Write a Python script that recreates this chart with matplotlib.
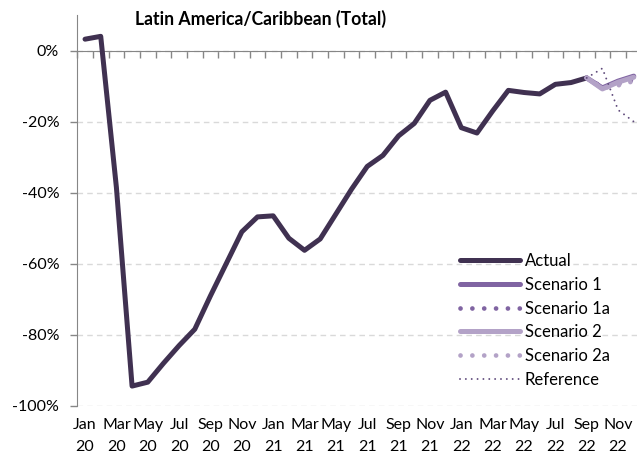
import numpy as np
import matplotlib
matplotlib.use('Agg')
import matplotlib.pyplot as plt
from matplotlib.ticker import FixedLocator, FuncFormatter

plt.rcParams['font.family'] = ['Lato', 'DejaVu Sans']

# months Jan 2020 .. Dec 2022
month_names = ['Jan', 'Feb', 'Mar', 'Apr', 'May', 'Jun',
               'Jul', 'Aug', 'Sep', 'Oct', 'Nov', 'Dec']
years = ['20', '21', '22']
months = [m + '\n' + y for y in years for m in month_names]

# % change vs 2019, actual data up to Sep 22
actual = [3.2, 4.0, -38.5, -94.4, -93.3, -88.0, -83.0, -78.4, -69.0, -60.0,
          -51.0, -46.8, -46.5, -52.8, -56.2, -53.0, -46.0, -39.0, -32.6, -29.5,
          -24.0, -20.5, -14.0, -11.7, -21.7, -23.2, -17.0, -11.2, -11.8, -12.2,
          -9.5, -9.0, -7.7]

# forecast months: Sep 22 .. Dec 22
fc_start = 32
scenario_1 = [-7.7, -10.5, -8.6, -7.2]
scenario_1a = [-7.7, -10.3, -9.4, -8.2]
scenario_2 = [-7.7, -10.8, -8.9, -7.5]
scenario_2a = [-7.7, -10.6, -9.8, -8.6]
reference = [-7.7, -5.0, -16.7, -20.0]

dark = '#403151'
mid = '#8064a2'
light = '#b3a2c7'
ref_col = '#5f4a7b'

fig = plt.figure(figsize=(6.37, 4.59), dpi=100)
ax = fig.add_axes([0.1212, 0.1155, 0.886, 0.8518])

x = np.arange(len(months))
xa = x[:len(actual)]
xf = x[fc_start:fc_start + len(scenario_1)]

ax.plot(xa, actual, color=dark, lw=3.6, solid_capstyle='round',
        solid_joinstyle='round', label='Actual', zorder=3)
ax.plot(xf, scenario_1, color=mid, lw=3.6, solid_capstyle='round',
        label='Scenario 1', zorder=3)
ax.plot(xf, scenario_1a, color=mid, lw=3.4, dashes=(0.01, 2.5),
        dash_capstyle='round', label='Scenario 1a', zorder=3)
ax.plot(xf, scenario_2, color=light, lw=3.6, solid_capstyle='round',
        label='Scenario 2', zorder=3)
ax.plot(xf, scenario_2a, color=light, lw=3.4, dashes=(0.01, 2.5),
        dash_capstyle='round', label='Scenario 2a', zorder=3)
ax.plot(xf, reference, color=ref_col, lw=1.4, dashes=(0.01, 3),
        dash_capstyle='round', label='Reference', zorder=4)

ax.set_xlim(-0.5, 35.5)
ax.set_ylim(-100, 10)

# y axis
ax.set_yticks(np.arange(-100, 1, 20))
ax.yaxis.set_major_formatter(FuncFormatter(lambda v, p: f'{v:.0f}%'))
ax.grid(axis='y', color='#d9d9d9', ls=(0, (4, 3)), lw=1.0)
ax.set_axisbelow(True)
ax.tick_params(axis='y', length=5, width=1, color='#868686', pad=8,
               labelsize=11.5, labelcolor='#000000')

# x axis line sits at 0%, category ticks point down from it
ax.spines['top'].set_position(('data', 0))
ax.spines['top'].set_color('#868686')
ax.spines['left'].set_color('#868686')
ax.spines['right'].set_visible(False)
ax.spines['bottom'].set_visible(False)

ax.xaxis.set_major_locator(FixedLocator(x[::2]))
ax.set_xticklabels(months[::2], linespacing=1.65)
ax.xaxis.set_minor_locator(FixedLocator(np.arange(-0.5, 36, 1)))
ax.tick_params(axis='x', which='major', length=0, pad=9, labelsize=11.5,
               top=False, bottom=True)
ax.tick_params(axis='x', which='minor', length=5, width=1, color='#868686',
               direction='in', top=True, bottom=False)

fig.text(0.409, 0.958, 'Latin America/Caribbean (Total)', ha='center',
         va='center', fontsize=12.7, fontweight='bold')

ax.legend(loc='center left', bbox_to_anchor=(0.722, 0.302),
          bbox_transform=fig.transFigure, frameon=False, fontsize=12,
          handlelength=3.6, handletextpad=0.3, labelspacing=0.46,
          borderpad=0, borderaxespad=0)

fig.savefig('out.png', dpi=100)
